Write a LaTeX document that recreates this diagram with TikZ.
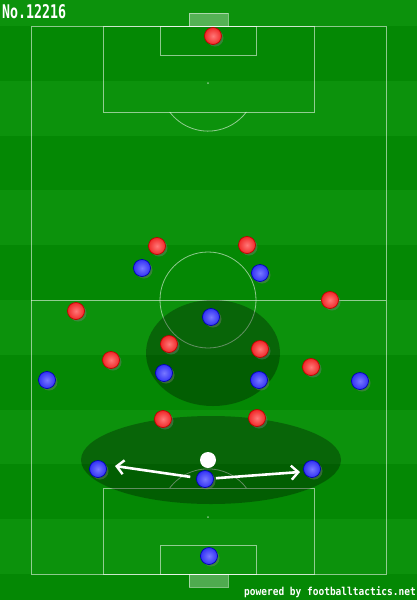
\documentclass[tikz,border=0pt]{standalone}
\usepackage{fontspec}
\newfontfamily\monofont{DejaVu Sans Mono}
\usetikzlibrary{arrows.meta,shadows}

\definecolor{grassA}{RGB}{12,146,12}
\definecolor{grassB}{RGB}{4,136,4}
\definecolor{redin}{RGB}{255,120,120}
\definecolor{redout}{RGB}{240,40,40}
\definecolor{bluein}{RGB}{120,120,255}
\definecolor{blueout}{RGB}{50,50,245}

\tikzset{
  mark line/.style={draw=white, draw opacity=0.55, line width=0.8pt},
  player/.style={circle, minimum size=17pt, inner sep=0pt, line width=0.7pt,
    drop shadow={shadow xshift=2pt, shadow yshift=-2pt, opacity=0.4}},
  home/.style={player, draw=red!75!black, inner color=redin, outer color=redout},
  away/.style={player, draw=blue!70!black, inner color=bluein, outer color=blueout},
  zone/.style={fill=black, fill opacity=0.3},
  run/.style={draw=white, line width=2.6pt, -{Straight Barb[length=7pt, width=14pt, line width=2.4pt]}}
}

\begin{document}
\begin{tikzpicture}[x=1pt, y=-1pt]
\useasboundingbox (0,0) rectangle (417,600);

% grass stripes
\fill[grassA] (0,0) rectangle (417,600);
\foreach \i in {0,2,4,6,8,10}
  \fill[grassB] (0,26+54.8*\i) rectangle (417,26+54.8*\i+54.8);

% pitch markings
\draw[mark line] (31,26) rectangle (386,574);
\draw[mark line] (31,300) -- (386,300);
\draw[mark line] (208,300) circle[radius=48];
\draw[mark line] (103,26) rectangle (314,112);
\draw[mark line] (160,26) rectangle (256,55);
\draw[mark line] (103,488) rectangle (314,574);
\draw[mark line] (160,545) rectangle (256,574);
\draw[mark line] (169.7,112) arc[start angle=143, end angle=37, radius=48];
\draw[mark line] (169.7,488) arc[start angle=-143, end angle=-37, radius=48];
\fill[white, opacity=0.5] (208,83) circle[radius=1];
\fill[white, opacity=0.5] (208,517) circle[radius=1];
\filldraw[fill=white, fill opacity=0.3, draw=white, draw opacity=0.5] (189,13) rectangle (228,26);
\filldraw[fill=white, fill opacity=0.3, draw=white, draw opacity=0.5] (189,574) rectangle (228,587);

% shaded zones
\fill[zone] (213,353) ellipse[x radius=67, y radius=53];
\fill[zone] (211,460) ellipse[x radius=130, y radius=44];

% red team
\node[home] (r1) at (213,36) {};
\node[home] (r2) at (157,246) {};
\node[home] (r3) at (247,245) {};
\node[home] (r4) at (76,311) {};
\node[home] (r5) at (330,300) {};
\node[home] (r6) at (111,360) {};
\node[home] (r7) at (169,344) {};
\node[home] (r8) at (260,349) {};
\node[home] (r9) at (311,367) {};
\node[home] (r10) at (163,419) {};
\node[home] (r11) at (257,418) {};

% blue team
\node[away] (b1) at (142,268) {};
\node[away] (b2) at (260,273) {};
\node[away] (b3) at (211,317) {};
\node[away] (b4) at (47,380) {};
\node[away] (b5) at (164,373) {};
\node[away] (b6) at (259,380) {};
\node[away] (b7) at (360,381) {};
\node[away] (b8) at (98,469) {};
\node[away] (b9) at (312,469) {};
\node[away] (b10) at (205,479) {};
\node[away] (b11) at (209,556) {};

% ball
\node[circle, fill=white, minimum size=16pt, inner sep=0pt] (ball) at (208,460) {};

% runs
\coordinate (runL) at (115,466);
\coordinate (runR) at (300,472);
\draw[run, shorten <=6pt] (b10) -- (runL);
\draw[run, shorten <=2pt] (b10) -- (runR);

\node[anchor=north west, inner sep=0pt, text=white, font=\monofont\bfseries\fontsize{13}{13}\selectfont] (title) at (2,4) {\scalebox{1.02}[1.45]{No.12216}};
\node[anchor=south east, inner sep=0pt, text=white, font=\monofont\bfseries\fontsize{9.5}{9.5}\selectfont] (credit) at (416,598) {\scalebox{1}[1.15]{powered by footballtactics.net}};
\end{tikzpicture}
\end{document}
